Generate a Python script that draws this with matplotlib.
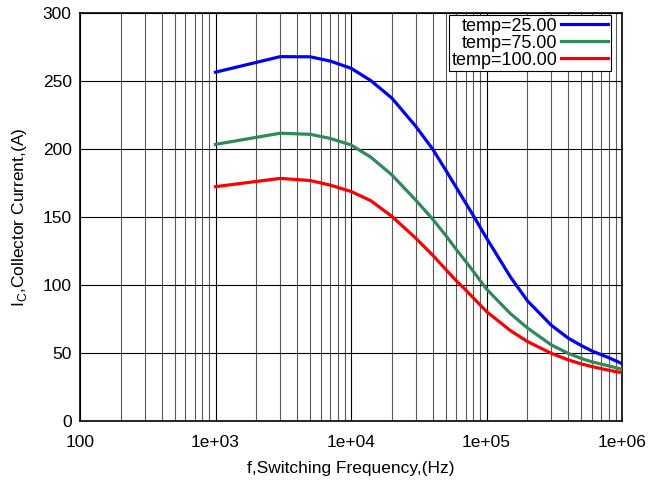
import matplotlib
matplotlib.use("Agg")
import matplotlib.pyplot as plt
from matplotlib.ticker import FixedLocator, FixedFormatter, LogLocator, NullFormatter

plt.rcParams['font.family'] = ['Liberation Sans', 'DejaVu Sans']

# switching frequency, Hz
freq = [1e3, 3e3, 5e3, 7e3, 1e4, 1.4e4, 2e4, 3e4, 4e4, 5e4, 6e4, 7e4, 8e4,
        1e5, 1.5e5, 2e5, 3e5, 4e5, 5e5, 6e5, 8e5, 1e6]

# collector current, A
ic_25 = [256.5, 267.9, 267.8, 264.7, 259.4, 250.3, 237.5, 216.8, 200, 184.5,
         171.5, 160.5, 151, 134.5, 106, 88.5, 70.5, 61, 55.5, 51.5, 46.5, 42.2]
ic_75 = [203.4, 211.6, 210.8, 207.8, 203, 194, 181, 162.5, 148.5, 136.5,
         126, 117.5, 110, 97, 79, 68.5, 56, 49.8, 46, 43.5, 40.5, 38]
ic_100 = [172.3, 178.4, 176.8, 173.5, 168.8, 162, 150.5, 134.5, 122, 111.5,
          103, 96.5, 90.5, 80.5, 66.5, 58.5, 49.8, 45, 42, 40, 37.3, 35.5]

labels = ["temp=25.00", "temp=75.00", "temp=100.00"]
colors = ["#0000ff", "#2e8b57", "#ff0000"]

x_ticks = [100, 1e3, 1e4, 1e5, 1e6]
x_ticklabels = ["100", "1e+03", "1e+04", "1e+05", "1e+06"]
y_ticks = [0, 50, 100, 150, 200, 250, 300]

fig = plt.figure(figsize=(6.51, 4.82), dpi=100)
ax = fig.add_axes([80 / 651, 61 / 482, 542 / 651, 408 / 482])

for ys, lab, c in zip([ic_25, ic_75, ic_100], labels, colors):
    ax.plot(freq, ys, color=c, lw=2.3, label=lab, zorder=3,
            solid_joinstyle="round")

ax.set_xscale("log")
ax.set_xlim(100, 1e6)
ax.set_ylim(0, 300)

ax.xaxis.set_major_locator(FixedLocator(x_ticks))
ax.xaxis.set_major_formatter(FixedFormatter(x_ticklabels))
ax.xaxis.set_minor_locator(LogLocator(base=10, subs=range(2, 10)))
ax.xaxis.set_minor_formatter(NullFormatter())
ax.set_yticks(y_ticks)

ax.grid(True, which="major", color="black", lw=0.8)
ax.grid(True, which="minor", axis="x", color="0.35", lw=0.8)
ax.tick_params(which="both", length=0, labelsize=12.5)
ax.tick_params(axis="x", pad=10)
ax.tick_params(axis="y", pad=6)

for s in ax.spines.values():
    s.set_linewidth(1.2)

ax.set_xlabel("f,Switching Frequency,(Hz)", fontsize=12.5, labelpad=8)
ax.set_ylabel(r"I$_\mathregular{C}$,Collector Current,(A)", fontsize=12.5,
              labelpad=10)

leg = ax.legend(loc="upper right", bbox_to_anchor=(0.9797, 0.995),
                markerfirst=False, fontsize=13, handlelength=2.6,
                handletextpad=0.2, labelspacing=0.0, borderpad=0.15,
                borderaxespad=0, fancybox=False, framealpha=1,
                edgecolor="black")
leg.get_frame().set_linewidth(0.8)
for t in leg.get_texts():
    t.set_ha("right")

fig.savefig("out.png", dpi=100)
